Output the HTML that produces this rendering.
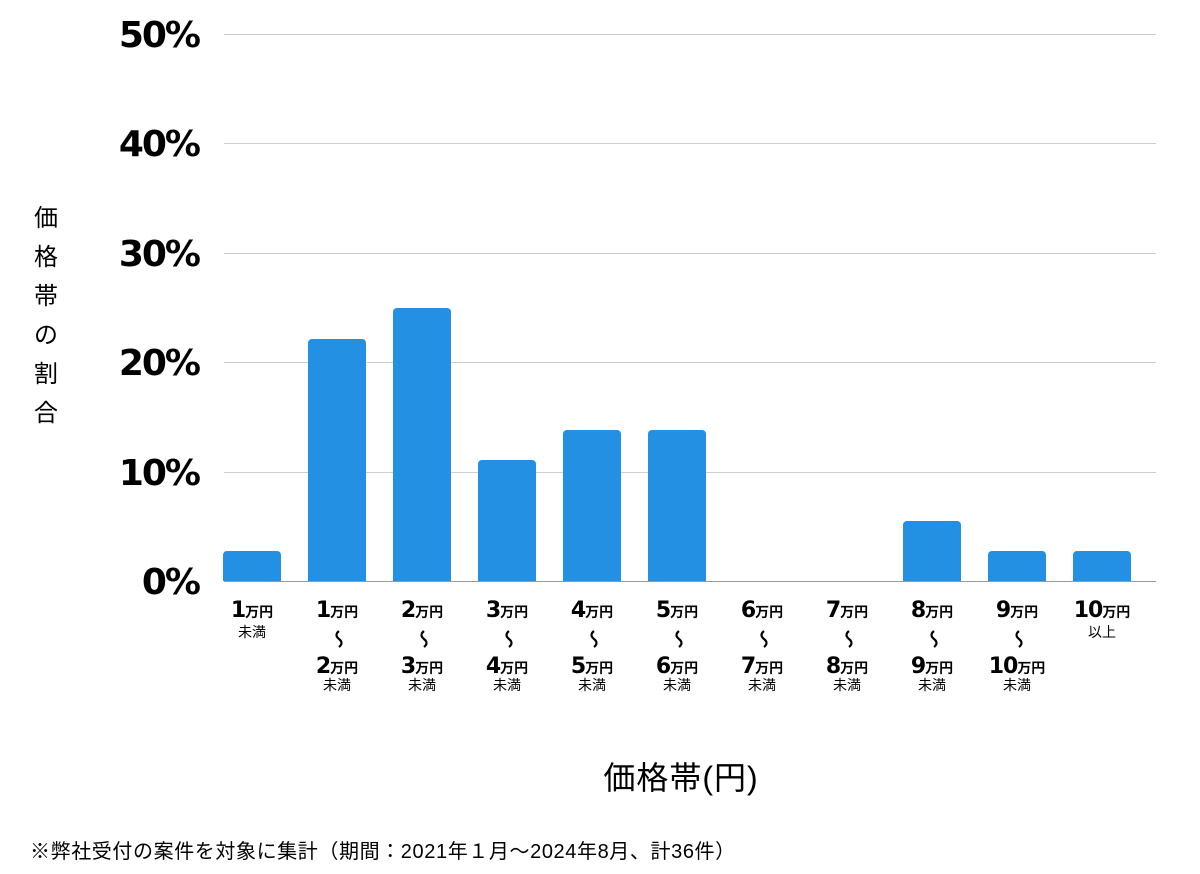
<!DOCTYPE html>
<html><head><meta charset="utf-8"><style>
html,body{margin:0;padding:0;background:#fff;}
svg{display:block;}
text{font-family:"Liberation Sans","Noto Sans CJK JP",sans-serif;fill:#000;}
.y{font-size:36px;font-weight:bold;font-family:"DejaVu Sans",sans-serif;letter-spacing:-2px;}
.n{font-size:22px;font-weight:bold;font-family:"DejaVu Sans",sans-serif;letter-spacing:-1px;}
.u{font-size:14px;font-weight:bold;}
.s{font-size:14px;}
</style></head><body>
<svg width="1200" height="874" viewBox="0 0 1200 874">
<g stroke="#cfcfcf" stroke-width="1">
<line x1="224" x2="1156" y1="34.5" y2="34.5"/>
<line x1="224" x2="1156" y1="143.5" y2="143.5"/>
<line x1="224" x2="1156" y1="253.5" y2="253.5"/>
<line x1="224" x2="1156" y1="362.5" y2="362.5"/>
<line x1="224" x2="1156" y1="472.5" y2="472.5"/>
</g>
<g text-anchor="end">
<text class="y" x="199" y="47">50%</text>
<text class="y" x="199" y="156">40%</text>
<text class="y" x="199" y="266">30%</text>
<text class="y" x="199" y="375">20%</text>
<text class="y" x="199" y="485">10%</text>
<text class="y" x="199" y="594">0%</text>
</g>
<g text-anchor="middle">
<text x="46" y="226" style="font-size:24px">価</text>
<text x="46" y="265" style="font-size:24px">格</text>
<text x="46" y="304" style="font-size:24px">帯</text>
<text x="46" y="343" style="font-size:24px">の</text>
<text x="46" y="382" style="font-size:24px">割</text>
<text x="46" y="421" style="font-size:24px">合</text>
</g>
<g fill="#2490e3">
<path d="M223 581V555a4 4 0 0 1 4-4h50a4 4 0 0 1 4 4V581z"/>
<path d="M308 581V343a4 4 0 0 1 4-4h50a4 4 0 0 1 4 4V581z"/>
<path d="M393 581V312a4 4 0 0 1 4-4h50a4 4 0 0 1 4 4V581z"/>
<path d="M478 581V464a4 4 0 0 1 4-4h50a4 4 0 0 1 4 4V581z"/>
<path d="M563 581V434a4 4 0 0 1 4-4h50a4 4 0 0 1 4 4V581z"/>
<path d="M648 581V434a4 4 0 0 1 4-4h50a4 4 0 0 1 4 4V581z"/>
<path d="M903 581V525a4 4 0 0 1 4-4h50a4 4 0 0 1 4 4V581z"/>
<path d="M988 581V555a4 4 0 0 1 4-4h50a4 4 0 0 1 4 4V581z"/>
<path d="M1073 581V555a4 4 0 0 1 4-4h50a4 4 0 0 1 4 4V581z"/>
</g>
<line x1="224" x2="1156" y1="581.5" y2="581.5" stroke="#999" stroke-width="1"/>
<g text-anchor="middle">
<text x="252" y="617"><tspan class="n">1</tspan><tspan class="u">万円</tspan></text>
<text class="s" x="252" y="637">未満</text>
<text x="1102" y="617"><tspan class="n">10</tspan><tspan class="u">万円</tspan></text>
<text class="s" x="1102" y="637">以上</text>
<text x="337" y="617"><tspan class="n">1</tspan><tspan class="u">万円</tspan></text><path d="M339 631q-5 4 0 8t0 8" fill="none" stroke="#000" stroke-width="2.2"/><text x="337" y="673"><tspan class="n">2</tspan><tspan class="u">万円</tspan></text><text class="s" x="337" y="690">未満</text>
<text x="422" y="617"><tspan class="n">2</tspan><tspan class="u">万円</tspan></text><path d="M424 631q-5 4 0 8t0 8" fill="none" stroke="#000" stroke-width="2.2"/><text x="422" y="673"><tspan class="n">3</tspan><tspan class="u">万円</tspan></text><text class="s" x="422" y="690">未満</text>
<text x="507" y="617"><tspan class="n">3</tspan><tspan class="u">万円</tspan></text><path d="M509 631q-5 4 0 8t0 8" fill="none" stroke="#000" stroke-width="2.2"/><text x="507" y="673"><tspan class="n">4</tspan><tspan class="u">万円</tspan></text><text class="s" x="507" y="690">未満</text>
<text x="592" y="617"><tspan class="n">4</tspan><tspan class="u">万円</tspan></text><path d="M594 631q-5 4 0 8t0 8" fill="none" stroke="#000" stroke-width="2.2"/><text x="592" y="673"><tspan class="n">5</tspan><tspan class="u">万円</tspan></text><text class="s" x="592" y="690">未満</text>
<text x="677" y="617"><tspan class="n">5</tspan><tspan class="u">万円</tspan></text><path d="M679 631q-5 4 0 8t0 8" fill="none" stroke="#000" stroke-width="2.2"/><text x="677" y="673"><tspan class="n">6</tspan><tspan class="u">万円</tspan></text><text class="s" x="677" y="690">未満</text>
<text x="762" y="617"><tspan class="n">6</tspan><tspan class="u">万円</tspan></text><path d="M764 631q-5 4 0 8t0 8" fill="none" stroke="#000" stroke-width="2.2"/><text x="762" y="673"><tspan class="n">7</tspan><tspan class="u">万円</tspan></text><text class="s" x="762" y="690">未満</text>
<text x="847" y="617"><tspan class="n">7</tspan><tspan class="u">万円</tspan></text><path d="M849 631q-5 4 0 8t0 8" fill="none" stroke="#000" stroke-width="2.2"/><text x="847" y="673"><tspan class="n">8</tspan><tspan class="u">万円</tspan></text><text class="s" x="847" y="690">未満</text>
<text x="932" y="617"><tspan class="n">8</tspan><tspan class="u">万円</tspan></text><path d="M934 631q-5 4 0 8t0 8" fill="none" stroke="#000" stroke-width="2.2"/><text x="932" y="673"><tspan class="n">9</tspan><tspan class="u">万円</tspan></text><text class="s" x="932" y="690">未満</text>
<text x="1017" y="617"><tspan class="n">9</tspan><tspan class="u">万円</tspan></text><path d="M1019 631q-5 4 0 8t0 8" fill="none" stroke="#000" stroke-width="2.2"/><text x="1017" y="673"><tspan class="n">10</tspan><tspan class="u">万円</tspan></text><text class="s" x="1017" y="690">未満</text>
</g>
<text x="681" y="789" text-anchor="middle" style="font-size:32px;letter-spacing:1px">価格帯(円)</text>
<text x="30" y="858" style="font-size:20px;letter-spacing:0.6px">※弊社受付の案件を対象に集計（期間：2021年１月〜2024年8月、計36件）</text>
</svg>
</body></html>
